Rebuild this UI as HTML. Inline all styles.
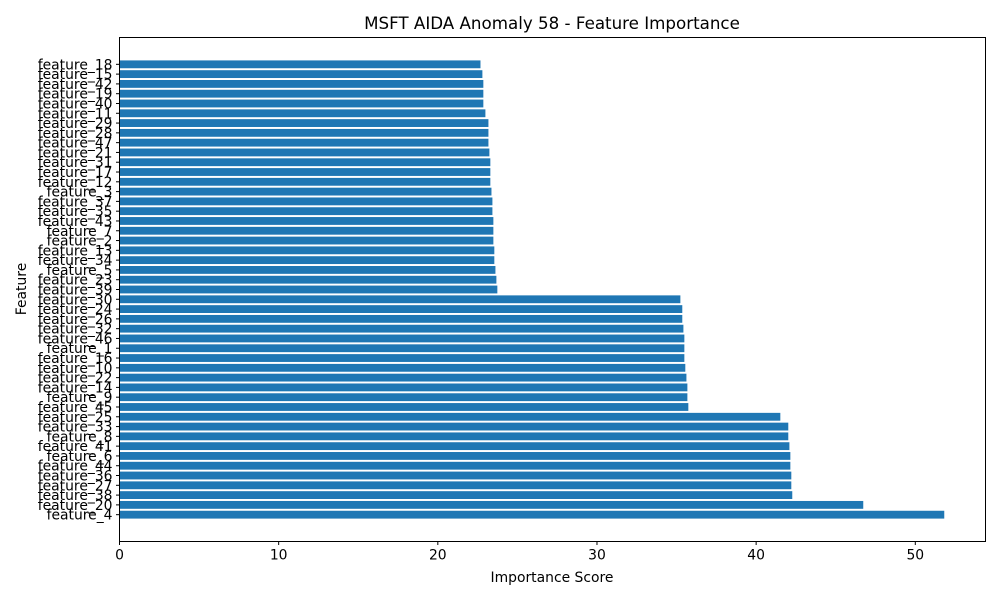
<!DOCTYPE html>
<html><head><meta charset="utf-8"><style>
body{margin:0;background:#fff;}
svg text{font-family:"DejaVu Sans","Liberation Sans",sans-serif;fill:#000;}
</style></head><body>
<svg id="chart" width="1000" height="600" viewBox="0 0 1000 600">
<rect width="1000" height="600" fill="#fff"/>
<text x="552" y="29" font-size="16.7" text-anchor="middle">MSFT AIDA Anomaly 58 - Feature Importance</text>
<g id="bars"></g>
<g id="xticks"></g>
<g id="yticks"></g>
<rect x="119.5" y="37.5" width="866" height="504" fill="none" stroke="#000" stroke-width="1"/>
<text x="552" y="582" font-size="13.9" text-anchor="middle">Importance Score</text>
<text transform="translate(26,289) rotate(-90)" font-size="13.9" text-anchor="middle">Feature</text>
</svg>
<script>
const features = ["feature_4","feature_20","feature_38","feature_27","feature_36","feature_44","feature_6","feature_41","feature_8","feature_33","feature_25","feature_45","feature_9","feature_14","feature_22","feature_10","feature_16","feature_1","feature_46","feature_32","feature_26","feature_24","feature_30","feature_39","feature_23","feature_5","feature_34","feature_13","feature_2","feature_7","feature_43","feature_35","feature_37","feature_3","feature_12","feature_17","feature_31","feature_21","feature_47","feature_28","feature_29","feature_11","feature_40","feature_19","feature_42","feature_15","feature_18"];
const scores = [51.82,46.73,42.27,42.21,42.21,42.15,42.15,42.09,42.02,42.02,41.52,35.74,35.68,35.68,35.62,35.55,35.49,35.49,35.49,35.43,35.36,35.36,35.24,23.74,23.68,23.62,23.55,23.55,23.49,23.49,23.49,23.43,23.43,23.37,23.30,23.30,23.30,23.24,23.18,23.18,23.18,22.99,22.86,22.86,22.86,22.80,22.68];
const xTicks = [0,10,20,30,40,50];
const NS="http://www.w3.org/2000/svg";
const X0=119.5, X1=985.5, Y0=37.5, Y1=541.5;
const xMax = Math.max(...scores)*1.05;
const x = v => X0 + v/xMax*(X1-X0);
const n = features.length;
const yLo = -0.4 - (n-1+0.8)*0.05, yHi = n-1+0.4 + (n-1+0.8)*0.05;
const y = v => Y1 - (v-yLo)/(yHi-yLo)*(Y1-Y0);
const bh = 0.8*(Y1-Y0)/(yHi-yLo);
const bars=document.getElementById('bars'), xt=document.getElementById('xticks'), yt=document.getElementById('yticks');
features.forEach((f,i)=>{
  const r=document.createElementNS(NS,'rect');
  r.setAttribute('x',X0); r.setAttribute('y',y(i)-bh/2);
  r.setAttribute('width',x(scores[i])-X0); r.setAttribute('height',bh);
  r.setAttribute('fill','#1f77b4');
  
  
  bars.appendChild(r);
  const l=document.createElementNS(NS,'line');
  l.setAttribute('x1',X0-3.5); l.setAttribute('x2',X0); l.setAttribute('y1',y(i)); l.setAttribute('y2',y(i));
  l.setAttribute('stroke','#000');
  yt.appendChild(l);
  const t=document.createElementNS(NS,'text');
  t.setAttribute('x',X0-7); t.setAttribute('y',y(i)+5);
  t.setAttribute('font-size','13.9'); t.setAttribute('text-anchor','end');
  t.textContent=f;
  
  
  yt.appendChild(t);
});
xTicks.forEach(v=>{
  const l=document.createElementNS(NS,'line');
  l.setAttribute('x1',x(v)); l.setAttribute('x2',x(v)); l.setAttribute('y1',Y1); l.setAttribute('y2',Y1+3.5);
  l.setAttribute('stroke','#000');
  xt.appendChild(l);
  const t=document.createElementNS(NS,'text');
  t.setAttribute('x',x(v)); t.setAttribute('y',Y1+18);
  t.setAttribute('font-size','13.9'); t.setAttribute('text-anchor','middle');
  t.textContent=v;
  
  
  xt.appendChild(t);
});
</script>
</body></html>
